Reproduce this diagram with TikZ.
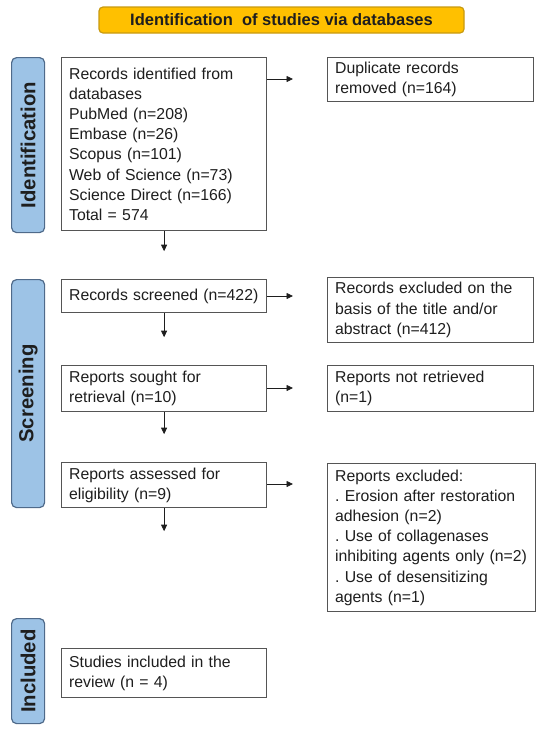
\documentclass[tikz,border=0pt]{standalone}
\usepackage{fontspec}
\setmainfont{Liberation Sans}
\usetikzlibrary{arrows.meta,calc}
\definecolor{txt}{HTML}{1E1E1E}
\definecolor{bordr}{HTML}{555555}
\definecolor{barfill}{HTML}{9DC3E6}
\definecolor{barline}{HTML}{4F6A8A}
\definecolor{titfill}{HTML}{FFC000}
\definecolor{titline}{HTML}{C89A10}
\frenchspacing
\begin{document}
\begin{tikzpicture}[x=1pt,y=-1pt,
  box/.style={draw=bordr,line width=1.2pt,fill=white,anchor=north west,align=left,
    inner xsep=7.5pt,inner ysep=0pt,text=txt,font=\fontsize{15.8}{20.2}\selectfont},
  sidebar/.style={draw=barline,line width=1.2pt,fill=barfill,rounded corners=5pt,
    anchor=north west,minimum width=33pt,inner sep=0pt},
  sidelabel/.style={rotate=90,font=\bfseries\fontsize{20.3}{21}\selectfont,text=txt},
  titlebox/.style={draw=titline,line width=1.2pt,fill=titfill,rounded corners=4pt,
    minimum width=365pt,minimum height=26pt,inner sep=0pt,text=txt,
    font=\bfseries\fontsize{16.5}{18}\selectfont},
  arr/.style={draw=txt,line width=0.8pt,-{Triangle[length=6.5pt,width=6pt]}}]

\useasboundingbox (0,0) rectangle (545,732);

% title
\node[titlebox] (title) at (281.5,20) {Identification\ \ of studies via databases};

% side bars
\node[sidebar,minimum height=175pt] (barI) at (11,57) {};
\node[sidelabel] (labI) at (barI.center) {Identification};
\node[sidebar,minimum height=228pt] (barS) at (11,279) {};
\node[sidelabel] (labS) at (barS.center) {Screening};
\node[sidebar,minimum height=105pt] (barN) at (11,618) {};
\node[sidelabel] (labN) at (barN.center) {Included};

% left column
\node[box,minimum width=205pt,minimum height=173pt,text width=190pt] (b1) at (61,57)
  {Records identified from\\databases\\PubMed (n=208)\\Embase (n=26)\\Scopus (n=101)\\Web of Science (n=73)\\Science Direct (n=166)\\Total = 574};
\node[box,minimum width=205pt,minimum height=33pt,text width=190pt] (scr) at (61,279)
  {Records screened (n=422)};
\node[box,minimum width=205pt,minimum height=46pt,text width=190pt] (sou) at (61,365)
  {Reports sought for\\retrieval (n=10)};
\node[box,minimum width=205pt,minimum height=45pt,text width=190pt] (ass) at (61,462)
  {Reports assessed for\\eligibility (n=9)};
\node[box,minimum width=205pt,minimum height=49pt,text width=190pt] (inc) at (61,648)
  {Studies included in the\\review (n = 4)};

% right column
\node[box,minimum width=206pt,minimum height=44pt,text width=191pt] (dup) at (327,57)
  {Duplicate records\\removed (n=164)};
\node[box,minimum width=206pt,minimum height=65pt,text width=191pt] (ex1) at (327,277)
  {Records excluded on the\\basis of the title and/or\\abstract (n=412)};
\node[box,minimum width=206pt,minimum height=46pt,text width=191pt] (nr) at (327,365)
  {Reports not retrieved\\(n=1)};
\node[box,minimum width=208pt,minimum height=148pt,text width=193pt] (ex3) at (327,463)
  {Reports excluded:\\. Erosion after restoration\\adhesion (n=2)\\. Use of collagenases\\inhibiting agents only (n=2)\\. Use of desensitizing\\agents (n=1)};

% horizontal arrows
\coordinate (e1) at (293,79);
\coordinate (e2) at (293,296);
\coordinate (e3) at (293,388);
\coordinate (e4) at (293,484);
\draw[arr] (b1.east |- e1) -- (e1);
\draw[arr] (scr.east |- e2) -- (e2);
\draw[arr] (sou.east |- e3) -- (e3);
\draw[arr] (ass.east |- e4) -- (e4);

% vertical arrows
\coordinate (f1) at ($(b1.south)+(0,20)$);
\coordinate (f2) at ($(scr.south)+(0,24)$);
\coordinate (f3) at ($(sou.south)+(0,22)$);
\coordinate (f4) at ($(ass.south)+(0,23)$);
\draw[arr] (b1.south) -- (f1);
\draw[arr] (scr.south) -- (f2);
\draw[arr] (sou.south) -- (f3);
\draw[arr] (ass.south) -- (f4);
\end{tikzpicture}
\end{document}
